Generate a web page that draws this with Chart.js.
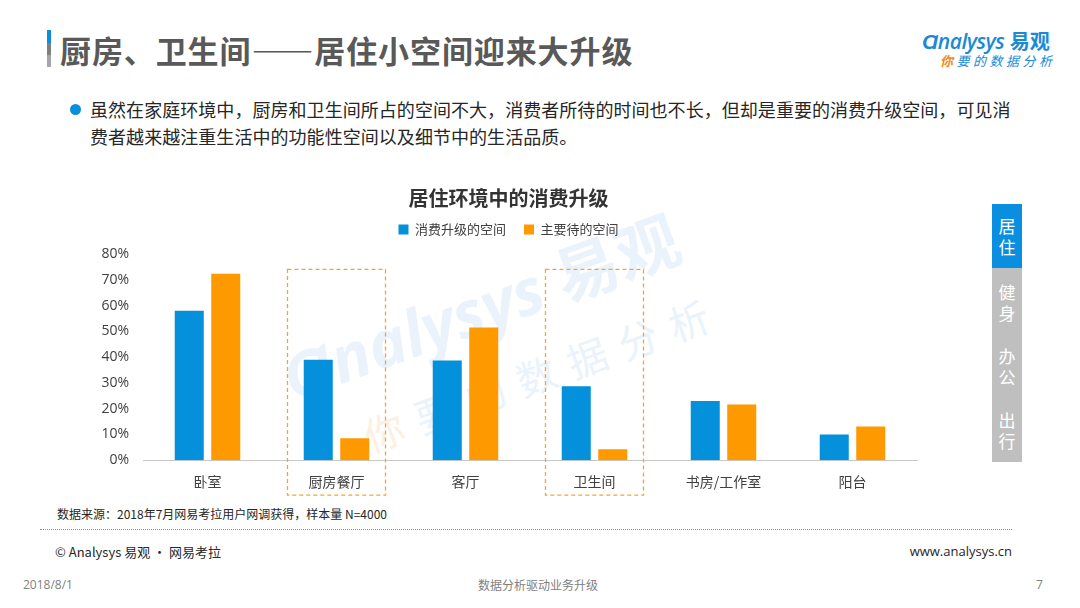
<!DOCTYPE html>
<html lang="zh">
<head>
    <meta charset="UTF-8">
    <title>居住环境中的消费升级</title>
    <script src="https://cdn.jsdelivr.net/npm/chart.js"></script>
    <style>
        body { margin: 0; width: 1080px; height: 608px; position: relative; overflow: hidden; background: #fff;
               font-family: "Noto Sans CJK SC", "Open Sans", sans-serif; }
        .abs { position: absolute; white-space: nowrap; }
        .bar { position: absolute; left: 47px; top: 30px; width: 4px; height: 37px;
               background: linear-gradient(#0a8ee0 0 35%, #7f7f7f 35% 68%, #a6a6a6 68% 100%); }
        h1 { position: absolute; left: 60px; top: 27px; margin: 0; font-size: 31px; font-weight: bold; color: #595959; letter-spacing: 0.9px; }
        .bullet { left: 90px; top: 96px; font-size: 18px; line-height: 27px; color: #262626; letter-spacing: 0.05px; }
        .dot { left: 70px; top: 104px; width: 11px; height: 11px; border-radius: 50%; background: #0a8ee0; }
        .tabs { left: 992px; top: 204px; width: 30px; color: #fff; font-size: 17px; text-align: center; line-height: 21px; }
        .watermark { color: #eaf3fb; font-weight: bold; transform: rotate(-20deg); transform-origin: left top; }
        #wrap { position: absolute; left: 94px; top: 180px; width: 836px; height: 320px; }
    </style>
</head>
<body>
    <div class="bar"></div>
    <h1>厨房、卫生间——居住小空间迎来大升级</h1>

    <div class="abs" style="left:922px;top:26px;font-size:21px;color:#1a8ad6;font-style:italic;font-family:'Open Sans',sans-serif;">
        <span style="font-weight:600;letter-spacing:-0.5px;">Ɑnalysys</span> <b style="font-style:normal;font-family:'Noto Sans CJK SC';font-size:20px;">易观</b>
    </div>
    <div class="abs" style="left:940px;top:51px;font-size:13px;color:#1a8ad6;font-style:italic;letter-spacing:3.5px;">
        <span style="color:#f08a1c;font-weight:bold;">你</span>要的数据分析
    </div>

    <div class="abs dot"></div>
    <div class="abs bullet">虽然在家庭环境中，厨房和卫生间所占的空间不大，消费者所待的时间也不长，但却是重要的消费升级空间，可见消<br>费者越来越注重生活中的功能性空间以及细节中的生活品质。</div>

    <div class="abs watermark" style="left:268px;top:332px;font-size:64px;font-family:'Open Sans',sans-serif;font-style:italic;">Ɑnalysys <span style="font-family:'Noto Sans CJK SC';font-style:normal;">易观</span></div>
    <div class="abs watermark" style="left:355px;top:410px;font-size:40px;font-weight:normal;letter-spacing:14px;"><span style="color:#fcf0e3;">你</span>要的数据分析</div>

    <div id="wrap"><canvas id="chart"></canvas></div>

    <div class="abs tabs" style="height:258px;background:#bfbfbf;">
        <div style="background:#0a8ee0;height:64px;padding-top:11px;box-sizing:border-box;">居<br>住</div>
        <div style="padding-top:13px;">健<br>身</div>
        <div style="padding-top:22px;">办<br>公</div>
        <div style="padding-top:22px;">出<br>行</div>
    </div>

    <div class="abs" style="left:57px;top:505px;font-size:12px;color:#262626;">数据来源：2018年7月网易考拉用户网调获得，样本量 N=4000</div>
    <div class="abs" style="left:40px;top:529px;width:972px;border-top:1px dotted #8c8c8c;"></div>
    <div class="abs" style="left:55px;top:542px;font-size:13px;color:#262626;">© Analysys 易观 • 网易考拉</div>
    <div class="abs" style="right:68px;top:542px;font-size:13px;color:#262626;font-family:'Open Sans',sans-serif;">www.analysys.cn</div>
    <div class="abs" style="left:23px;top:576px;font-size:12px;color:#7f7f7f;font-family:'Open Sans',sans-serif;">2018/8/1</div>
    <div class="abs" style="left:478px;top:576px;font-size:12px;color:#7f7f7f;">数据分析驱动业务升级</div>
    <div class="abs" style="left:1036px;top:576px;font-size:12px;color:#7f7f7f;font-family:'Open Sans',sans-serif;">7</div>

    <script>
        // 数据
        const categories = ['卧室', '厨房餐厅', '客厅', '卫生间', '书房/工作室', '阳台'];
        const upgradeSpace = [58, 39, 38.7, 28.7, 23, 10];
        const stayingSpace = [72.3, 8.5, 51.5, 4.2, 21.6, 13.1];
        const seriesNames = ['消费升级的空间', '主要待的空间'];
        const yTicks = [0, 10, 20, 30, 40, 50, 60, 70, 80];
        const highlighted = [1, 3]; // 用虚线框标出的类别

        // 虚线框
        const boxPlugin = {
            id: 'dashBoxes',
            afterDatasetsDraw(chart) {
                const { ctx, scales: { x, y }, chartArea } = chart;
                ctx.save();
                ctx.strokeStyle = '#f5a431';
                ctx.lineWidth = 1.3;
                ctx.setLineDash([4, 3]);
                highlighted.forEach(i => {
                    const cx = x.getPixelForValue(i);
                    const half = x.width / categories.length * 0.38;
                    const top = y.getPixelForValue(74);
                    const bottom = chartArea.bottom + 35;
                    ctx.strokeRect(cx - half, top, half * 2, bottom - top);
                });
                ctx.restore();
            }
        };

        // 图例下方留白
        const legendGap = {
            id: 'legendGap',
            beforeInit(chart) {
                const fit = chart.legend.fit;
                chart.legend.fit = function () {
                    fit.bind(chart.legend)();
                    this.height += 8;
                };
            }
        };

        const ctx = document.getElementById('chart').getContext('2d');
        new Chart(ctx, {
            type: 'bar',
            data: {
                labels: categories,
                datasets: [
                    { label: seriesNames[0], data: upgradeSpace, backgroundColor: '#0590db', borderWidth: 0 },
                    { label: seriesNames[1], data: stayingSpace, backgroundColor: '#ff9900', borderWidth: 0 }
                ]
            },
            options: {
                responsive: true,
                maintainAspectRatio: false,
                animation: false,
                layout: { padding: { left: 6, right: 13, top: 6, bottom: 5 } },
                datasets: { bar: { categoryPercentage: 0.566, barPercentage: 0.795 } },
                plugins: {
                    title: {
                        display: true,
                        text: '居住环境中的消费升级',
                        color: '#333',
                        font: { size: 20, weight: 'bold', family: '"Noto Sans CJK SC"' },
                        padding: { top: 0, bottom: -5 }
                    },
                    legend: {
                        labels: {
                            boxWidth: 10, boxHeight: 10, color: '#404040', padding: 18,
                            font: { size: 13, family: '"Noto Sans CJK SC"' }
                        }
                    },
                    tooltip: { enabled: false }
                },
                scales: {
                    x: {
                        grid: { display: false },
                        border: { display: true, color: '#c8c8c8' },
                        ticks: { color: '#404040', padding: 5, font: { size: 14, family: '"Noto Sans CJK SC"' } }
                    },
                    y: {
                        min: 0, max: 80,
                        grid: { display: false },
                        border: { display: false },
                        afterFit: axis => { axis.width = 43; },
                        afterBuildTicks: axis => { axis.ticks = yTicks.map(v => ({ value: v })); },
                        ticks: { color: '#404040', padding: 6, font: { size: 14, family: '"Open Sans"' },
                                 callback: v => v + '%' }
                    }
                }
            },
            plugins: [boxPlugin, legendGap]
        });
    </script>
</body>
</html>
